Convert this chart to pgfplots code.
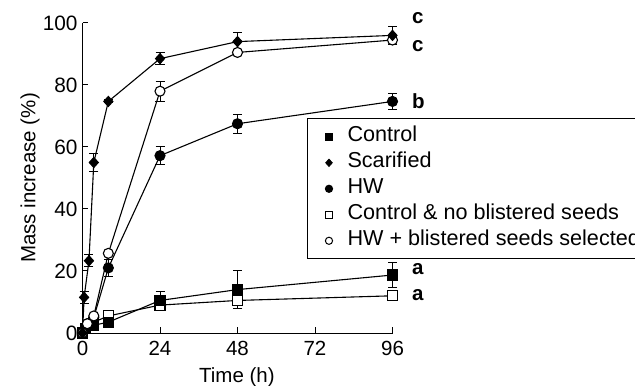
\documentclass[border=0pt]{standalone}
\usepackage{pgfplots}
\pgfplotsset{compat=1.18}
\usepackage{fontspec}
\setmainfont{Liberation Sans}
\begin{document}
\begin{tikzpicture}[font=\fontsize{20.5bp}{24bp}\selectfont]
\useasboundingbox (0bp,0bp) rectangle (635bp,386bp);
\clip (0bp,0bp) rectangle (635bp,386bp);
\begin{axis}[
  scale only axis, width=310bp, height=310bp,
  at={(82.5bp,53bp)}, anchor=south west,
  xmin=0, xmax=96, ymin=0, ymax=100,
  axis x line*=bottom, axis y line*=left,
  axis line style={line width=1bp, -},
  xtick={0,24,48,72,96}, ytick={0,20,40,60,80,100},
  tick align=inside, major tick length=6bp,
  tick style={line width=1bp, black},
  /pgf/number format/assume math mode=true,
  xticklabel style={font=\fontsize{20.5bp}{24bp}\selectfont, yshift=-5bp},
  yticklabel style={font=\fontsize{20.8bp}{24bp}\selectfont, xshift=-1.5bp},
  xlabel={Time (h)}, ylabel={Mass increase (\%)},
  xlabel style={at={(axis description cs:0.498,-0.143)}, anchor=center, font=\fontsize{20.5bp}{24bp}\selectfont},
  ylabel style={at={(axis description cs:-0.169,0.5)}, anchor=center, font=\fontsize{20.5bp}{24bp}\selectfont},
  clip=false,
  cycle list={{black}},
  every axis plot/.append style={black, line width=1.1bp, mark size=5bp, mark options={solid, line width=1bp}},
  error bars/error bar style={line width=1bp, black},
  error bars/error mark options={rotate=90, mark size=4.5bp, line width=1bp, black},
  legend style={at={(0.724,0.6926)}, anchor=north west, draw=black, line width=1bp,
    font=\fontsize{21.6bp}{24bp}\selectfont, inner xsep=10bp, inner ysep=5bp, row sep=0bp,
    nodes={text height=15bp, text depth=5bp, inner ysep=3bp}},
  legend cell align=left,
  legend image code/.code={\path (-11bp,0bp) (16bp,0bp); \draw[#1, mark size=3.6bp, line width=0.9bp] plot coordinates {(0bp,0bp)};},
]
\addlegendimage{only marks, mark=square*, black, fill=black}
\addlegendentry{Control}
\addlegendimage{only marks, mark=diamond*, black, fill=black, mark options={xscale=1.2}}
\addlegendentry{Scarified}
\addlegendimage{only marks, mark=*, black, fill=black}
\addlegendentry{HW}
\addlegendimage{only marks, mark=square, black}
\addlegendentry{Control \& no blistered seeds}
\addlegendimage{only marks, mark=o, black}
\addlegendentry{HW + blistered seeds selected}

% Control & no blistered seeds (open squares)
\addplot[forget plot, black, mark=square*, mark options={fill=white}, error bars/.cd, y dir=both, y explicit]
 coordinates {(0,0)(1,1.5)(3.5,3.5)(8,5.5) (24,9) +- (0,1) (48,10.5) +- (0,2.5) (96,12) +- (0,1.5)};
% Control (filled squares)
\addplot[forget plot, black, mark=square*, mark options={fill=black}, error bars/.cd, y dir=both, y explicit]
 coordinates {(0,0)(1,1.5)(3.5,2.5)(8,3.5) (24,10.5) +- (0,3) (48,14) +- (0,6) (96,18.7) +- (0,4)};
% HW (filled circles)
\addplot[forget plot, black, mark=*, mark options={fill=black}, error bars/.cd, y dir=both, y explicit]
 coordinates {(0,0)(1.5,3)(3.5,5)(8,21) +- (0,2.7) (24,57.2) +- (0,3) (48,67.5) +- (0,3) (96,74.7) +- (0,2.7)};
% HW + blistered seeds selected (open circles)
\addplot[forget plot, black, mark=*, mark options={fill=white}, error bars/.cd, y dir=both, y explicit]
 coordinates {(0,0)(1.5,3)(3.5,5.5)(8,25.7) +- (0,0) (24,78) +- (0,3.2) (48,90.5) +- (0,0.5) (96,94.5) +- (0,1.5)};
% Scarified (diamonds)
\addplot[forget plot, black, mark=diamond*, mark options={fill=black, xscale=1.2}, error bars/.cd, y dir=both, y explicit]
 coordinates {(0,0) (0.5,11.5) +- (0,2) (2,23.3) +- (0,2) (3.5,55) +- (0,3) (8,74.7) +- (0,0.5) (24,88.5) +- (0,2) (48,94) +- (0,3) (96,96) +- (0,3)};

\node[anchor=west, inner sep=0pt, font=\bfseries\fontsize{20.5bp}{24bp}\selectfont] at (axis cs:102,101.5) {c};
\node[anchor=west, inner sep=0pt, font=\bfseries\fontsize{20.5bp}{24bp}\selectfont] at (axis cs:102,92.6) {c};
\node[anchor=west, inner sep=0pt, font=\bfseries\fontsize{20.5bp}{24bp}\selectfont] at (axis cs:102,74.9) {b};
\node[anchor=west, inner sep=0pt, font=\bfseries\fontsize{20.5bp}{24bp}\selectfont] at (axis cs:102,20.7) {a};
\node[anchor=west, inner sep=0pt, font=\bfseries\fontsize{20.5bp}{24bp}\selectfont] at (axis cs:102,12.1) {a};
\end{axis}
\end{tikzpicture}
\end{document}
